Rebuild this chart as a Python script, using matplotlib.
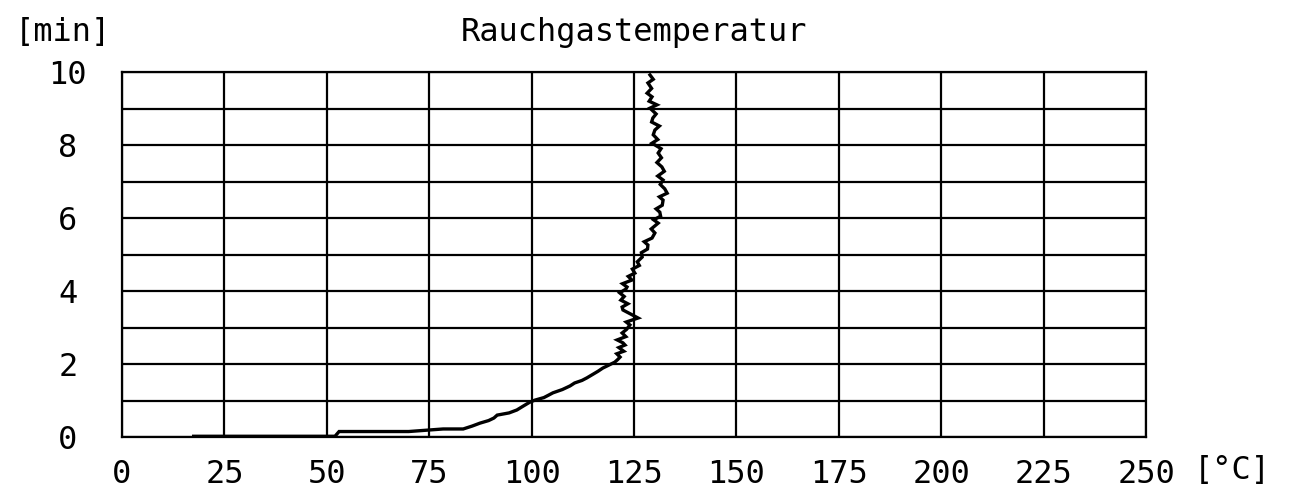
import matplotlib
matplotlib.use("Agg")
import matplotlib.pyplot as plt

title = "Rauchgastemperatur"
y_label = "[min]"
x_label = "[°C]"
x_ticks = [0, 25, 50, 75, 100, 125, 150, 175, 200, 225, 250]
y_ticks = [0, 2, 4, 6, 8, 10]

time_min = [0.02, 0.02, 0.15, 0.15, 0.22, 0.22, 0.30, 0.38, 0.45, 0.52, 0.60, 0.66,
            0.74, 0.85, 0.95, 1.01, 1.08, 1.15, 1.21, 1.30, 1.40, 1.48, 1.55, 1.62,
            1.72, 1.80, 1.89, 1.95, 2.05, 2.12, 2.19, 2.28, 2.35, 2.45, 2.52, 2.58,
            2.66, 2.75, 2.85, 2.95, 3.07, 3.15, 3.26, 3.35, 3.48, 3.56, 3.65, 3.75,
            3.85, 3.95, 4.05, 4.11, 4.20, 4.30, 4.40, 4.49, 4.60, 4.70, 4.80, 4.93,
            5.05, 5.15, 5.26, 5.35, 5.45, 5.59, 5.70, 5.86, 5.95, 6.05, 6.16, 6.25,
            6.35, 6.49, 6.58, 6.68, 6.80, 6.92, 7.04, 7.15, 7.28, 7.40, 7.52, 7.65,
            7.78, 7.90, 8.05, 8.15, 8.28, 8.41, 8.52, 8.63, 8.74, 8.85, 9.01, 9.10,
            9.20, 9.32, 9.42, 9.55, 9.70, 9.80, 9.92]
temp_c = [17.5, 52.0, 53.0, 70.0, 78.4, 83.3, 85.5, 87.4, 89.5, 90.8, 91.6, 94.5,
          96.4, 98.0, 99.5, 100.8, 103.0, 104.2, 105.2, 107.5, 109.4, 110.5, 112.3, 113.5,
          115.0, 116.2, 117.4, 118.5, 120.3, 121.0, 121.6, 120.8, 122.5, 121.3, 122.8, 122.3,
          120.9, 123.0, 122.1, 123.2, 124.0, 123.1, 126.0, 124.5, 122.3, 122.1, 123.5, 121.8,
          122.6, 121.5, 123.0, 123.3, 122.2, 124.5, 123.6, 125.2, 124.6, 126.3, 125.8, 127.0,
          126.8, 128.3, 128.4, 127.5, 129.4, 130.1, 129.2, 130.9, 129.8, 131.5, 131.3, 130.4,
          131.9, 132.1, 131.2, 133.1, 132.5, 131.4, 132.1, 130.8, 132.4, 131.8, 130.6, 131.7,
          130.9, 131.6, 129.4, 130.8, 129.7, 130.1, 131.2, 129.3, 129.6, 130.4, 128.9, 130.6,
          128.7, 129.4, 128.2, 129.3, 128.4, 129.7, 128.9]

fig = plt.figure(figsize=(12.9, 4.88), dpi=100)
ax = fig.add_axes([122/1290, 51/488, 1024/1290, 365/488])
font = dict(family="DejaVu Sans Mono", fontsize=23)

ax.set_xlim(0, 250)
ax.set_ylim(0, 10)
ax.set_xticks(x_ticks)
ax.set_yticks(y_ticks)
ax.set_xticklabels([str(v) for v in x_ticks], **font)
ax.set_yticklabels([str(v) for v in y_ticks], ha="center", **font)
ax.set_yticks(list(range(0, 11)), minor=True)
ax.tick_params(axis="x", which="both", length=0, pad=16)
ax.tick_params(axis="y", which="both", length=0, pad=39)
ax.grid(True, which="both", color="black", linewidth=1.6)
for s in ax.spines.values():
    s.set_linewidth(1.6)
    s.set_color("black")

ax.plot(temp_c, time_min, color="black", linewidth=2.4, solid_joinstyle="miter", zorder=3)

ax.set_title(title, pad=22, **font)
fig.text(15/1290, 1 - 33/488, y_label, ha="left", va="center", **font)
ax.text(1.047, -0.093, x_label, transform=ax.transAxes, ha="left", va="center", **font)

fig.savefig("out.png", dpi=100)
